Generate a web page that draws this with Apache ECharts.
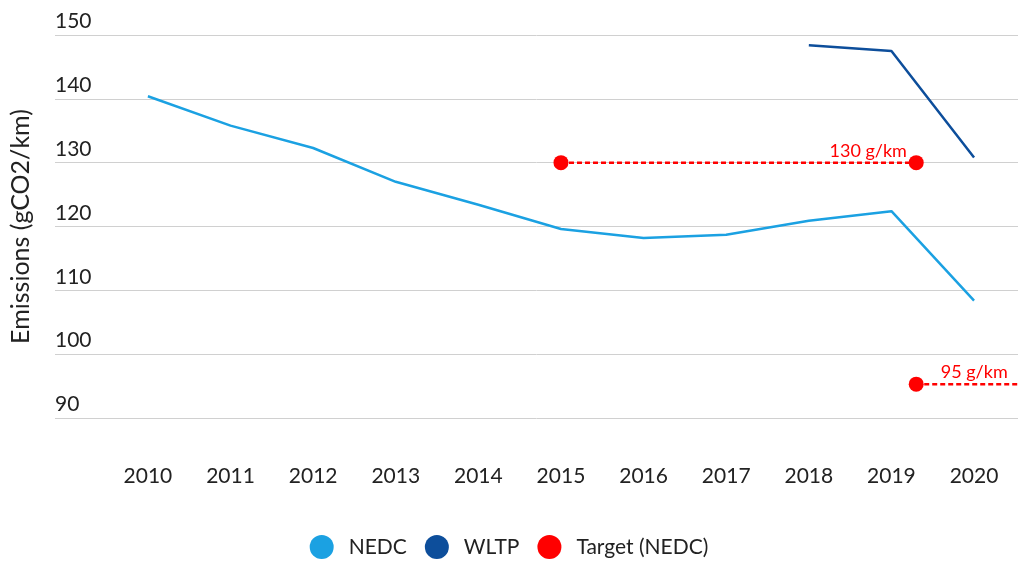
<!DOCTYPE html>
<html>
<head>
<meta charset="utf-8">
<script src="https://cdn.jsdelivr.net/npm/echarts@6/dist/echarts.min.js"></script>
<style>
  html, body { margin: 0; padding: 0; background: #fff; }
  #chart { width: 1018px; height: 561px; }
</style>
</head>
<body>
<div id="chart"></div>
<script>
const years = [2010, 2011, 2012, 2013, 2014, 2015, 2016, 2017, 2018, 2019, 2020]
const nedc = [140.4, 135.8, 132.3, 127.0, 123.4, 119.6, 118.2, 118.7, 120.9, 122.4, 108.4]
const wltp = [null, null, null, null, null, null, null, null, 148.4, 147.5, 130.8]

// targets: 130 g/km from 2015 until shortly into 2019, then 95 g/km onwards
const target130Years = [2015, 2019.3]
const target130Values = [130, 130]
const target95Years = [2019.3, 2020.532]
const target95Values = [95.3, 95.3]

const xMin = 2008.8755
const xMax = 2020.532

const FONT = "Lato, 'Open Sans', sans-serif"
const RED = "#ff0000"

const chart = echarts.init(document.getElementById("chart"))

const pairs = (xs, ys) => xs.map((x, i) => (ys[i] == null ? [x, "-"] : [x, ys[i]]))

const option = {
  animation: false,
  textStyle: { fontFamily: FONT },
  grid: { left: 54, right: 0, top: 35, bottom: 143 },
  legend: {
    top: 535,
    left: "center",
    padding: 0,
    icon: "circle",
    itemWidth: 24,
    itemHeight: 24,
    itemGap: 18,
    textStyle: { fontSize: 21, color: "#222", fontFamily: FONT, padding: [0, 0, 0, 10] },
    data: ["NEDC", "WLTP", "Target (NEDC)"],
  },
  xAxis: {
    type: "value",
    min: xMin,
    max: xMax,
    minInterval: 1,
    maxInterval: 1,
    axisLine: { show: false },
    axisTick: { show: false },
    splitLine: { show: false },
    axisLabel: {
      showMinLabel: false,
      showMaxLabel: false,
      margin: 48,
      fontSize: 21,
      color: "#222",
      formatter: (v) => (Number.isInteger(v) && v >= years[0] ? String(v) : ""),
    },
  },
  yAxis: {
    type: "value",
    min: 90,
    max: 150,
    interval: 10,
    name: "Emissions (gCO2/km)",
    nameLocation: "middle",
    nameRotate: 90,
    nameGap: 22,
    nameTextStyle: { fontSize: 25, color: "#222", fontFamily: FONT },
    axisLine: { show: false },
    axisTick: { show: false },
    axisLabel: {
      inside: true,
      margin: 0,
      verticalAlign: "bottom",
      padding: [0, 0, 3, 0],
      fontSize: 21,
      color: "#222",
    },
    splitLine: { lineStyle: { color: "#d0d0d0", width: 1 } },
  },
  series: [
    {
      name: "NEDC",
      type: "line",
      data: pairs(years, nedc),
      showSymbol: false,
      symbol: "none",
      itemStyle: { color: "#1ba1e2" },
      lineStyle: { color: "#1ba1e2", width: 2.5 },
    },
    {
      name: "WLTP",
      type: "line",
      data: pairs(years, wltp),
      showSymbol: false,
      symbol: "none",
      itemStyle: { color: "#0d4e9b" },
      lineStyle: { color: "#0d4e9b", width: 2.5 },
    },
    {
      name: "Target (NEDC)",
      type: "line",
      data: target130Years.map((x, i) => ({
        value: [x, target130Values[i]],
        label:
          i === 1
            ? { show: true, formatter: "130 g/km", position: "top", distance: 0, offset: [-48, 5] }
            : { show: false },
      })),
      symbol: "circle",
      symbolSize: 15,
      itemStyle: { color: RED },
      lineStyle: { color: RED, width: 2.5, type: [5, 3] },
      label: { color: RED, fontSize: 18, fontFamily: FONT },
    },
    {
      name: "Target (NEDC)",
      type: "line",
      data: target95Years.map((x, i) => ({
        value: [x, target95Values[i]],
        symbol: i === 0 ? "circle" : "none",
        label:
          i === 0
            ? { show: true, formatter: "95 g/km", position: "top", distance: 0, offset: [58, 5] }
            : { show: false },
      })),
      symbolSize: 15,
      itemStyle: { color: RED },
      lineStyle: { color: RED, width: 2.5, type: [5, 3] },
      label: { color: RED, fontSize: 18, fontFamily: FONT },
    },
  ],
}

chart.setOption(option)
window.addEventListener("resize", () => chart.resize())
</script>
</body>
</html>
